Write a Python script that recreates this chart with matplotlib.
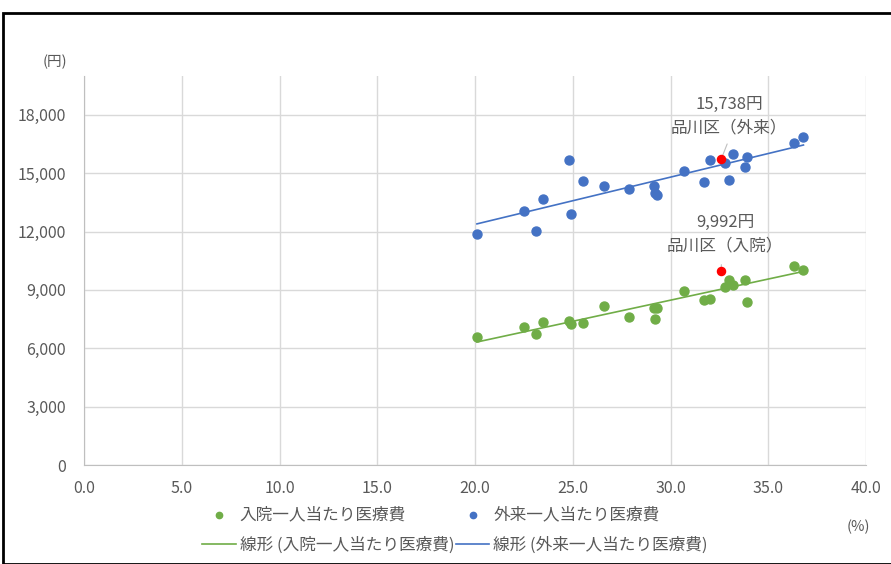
import matplotlib
matplotlib.use("Agg")
from matplotlib import pyplot as plt
from matplotlib.patches import Rectangle
import numpy as np

plt.rcParams['font.family'] = ['Noto Sans CJK JP', 'DejaVu Sans']

# aging rate (%) of each of the 23 wards
rate = [20.1, 22.5, 23.1, 23.5, 24.8, 24.9, 25.5, 26.6, 27.9, 29.15, 29.2, 29.3,
        30.7, 31.7, 32.0, 32.6, 32.8, 33.0, 33.2, 33.8, 33.9, 36.3, 36.8]
# outpatient cost per person (yen)
gairai = [11870, 13080, 12050, 13670, 15670, 12880, 14590, 14320, 14180, 14370, 13960, 13890,
          15140, 14560, 15690, 15738, 15520, 14660, 15980, 15310, 15830, 16550, 16860]
# inpatient cost per person (yen)
nyuin = [6600, 7080, 6720, 7370, 7420, 7250, 7290, 8160, 7630, 8080, 7510, 8090,
         8970, 8490, 8520, 9992, 9140, 9520, 9280, 9520, 8390, 10240, 10030]
shinagawa = 15  # index of 品川区

x_ticks = [0, 5, 10, 15, 20, 25, 30, 35, 40]
y_ticks = [0, 3000, 6000, 9000, 12000, 15000, 18000]

green = "#70AD47"
blue = "#4472C4"
red = "#FF0000"
grid = "#D9D9D9"
textc = "#595959"

fig = plt.figure(figsize=(8.91, 5.64), dpi=100)
ax = fig.add_axes([84/891, 99/564, (866-84)/891, (465-76)/564])

x = np.array(rate)
others = [i for i in range(len(rate)) if i != shinagawa]

ax.scatter(x[others], np.array(nyuin)[others], s=42, color=green, zorder=3, label="入院一人当たり医療費")
ax.scatter(x[others], np.array(gairai)[others], s=42, color=blue, zorder=3, label="外来一人当たり医療費")
ax.scatter([x[shinagawa]], [nyuin[shinagawa]], s=34, color=red, zorder=4)
ax.scatter([x[shinagawa]], [gairai[shinagawa]], s=34, color=red, zorder=4)

# linear trendlines over the data range
xx = np.array([x.min(), x.max()])
k, b = np.polyfit(x, nyuin, 1)
ax.plot(xx, k*xx + b, color=green, lw=1.2, zorder=2, label="線形 (入院一人当たり医療費)")
k, b = np.polyfit(x, gairai, 1)
ax.plot(xx, k*xx + b, color=blue, lw=1.2, zorder=2, label="線形 (外来一人当たり医療費)")

ax.set_xlim(0, 40)
ax.set_ylim(0, 20000)
ax.set_xticks(x_ticks)
ax.set_xticklabels(["%.1f" % t for t in x_ticks])
ax.set_yticks(y_ticks)
ax.set_yticklabels(["{:,}".format(t) for t in y_ticks])
ax.tick_params(length=0, labelsize=11.5, colors=textc)
ax.tick_params(axis="y", pad=13)
ax.tick_params(axis="x", pad=11)
ax.grid(True, color=grid, lw=1)
ax.set_axisbelow(True)
for s in ["top", "right"]:
    ax.spines[s].set_visible(False)
for s in ["left", "bottom"]:
    ax.spines[s].set_color("#BFBFBF")

# callouts for Shinagawa
ax.annotate("", xy=(x[shinagawa], gairai[shinagawa]), xytext=(x[shinagawa] + 0.35, gairai[shinagawa] + 900),
            arrowprops=dict(arrowstyle="-", color="#BFBFBF", lw=0.8))
ax.text(x[shinagawa] + 0.4, gairai[shinagawa] + 1150, "{:,}円\n品川区（外来）".format(gairai[shinagawa]),
        ha="center", va="bottom", fontsize=12, color=textc, linespacing=1.5)
ax.annotate("", xy=(x[shinagawa], nyuin[shinagawa]), xytext=(x[shinagawa], nyuin[shinagawa] + 450),
            arrowprops=dict(arrowstyle="-", color="#BFBFBF", lw=0.8))
ax.text(x[shinagawa] + 0.2, nyuin[shinagawa] + 850, "{:,}円\n品川区（入院）".format(nyuin[shinagawa]),
        ha="center", va="bottom", fontsize=12, color=textc, linespacing=1.5)

fig.text(55/891, 1 - 62/564, "(円)", ha="center", va="center", fontsize=10.5, color=textc)
fig.text(858/891, 1 - 527/564, "(%)", ha="center", va="center", fontsize=10.5, color=textc)

h, l = ax.get_legend_handles_labels()
order = [0, 2, 1, 3]
fig.legend([h[i] for i in order], [l[i] for i in order], ncol=2, loc="center",
           bbox_to_anchor=(455/891, 1 - 530/564), frameon=False, fontsize=12,
           labelcolor=textc, handlelength=2.0, handletextpad=0.25, columnspacing=0.1,
           labelspacing=0.8, borderaxespad=0, markerscale=0.7)

# outer frame
fig.patches.append(Rectangle((3/891, 0), 1, 1 - 13/564, transform=fig.transFigure,
                             fill=False, edgecolor="black", lw=2))

fig.savefig("out.png", dpi=100)
